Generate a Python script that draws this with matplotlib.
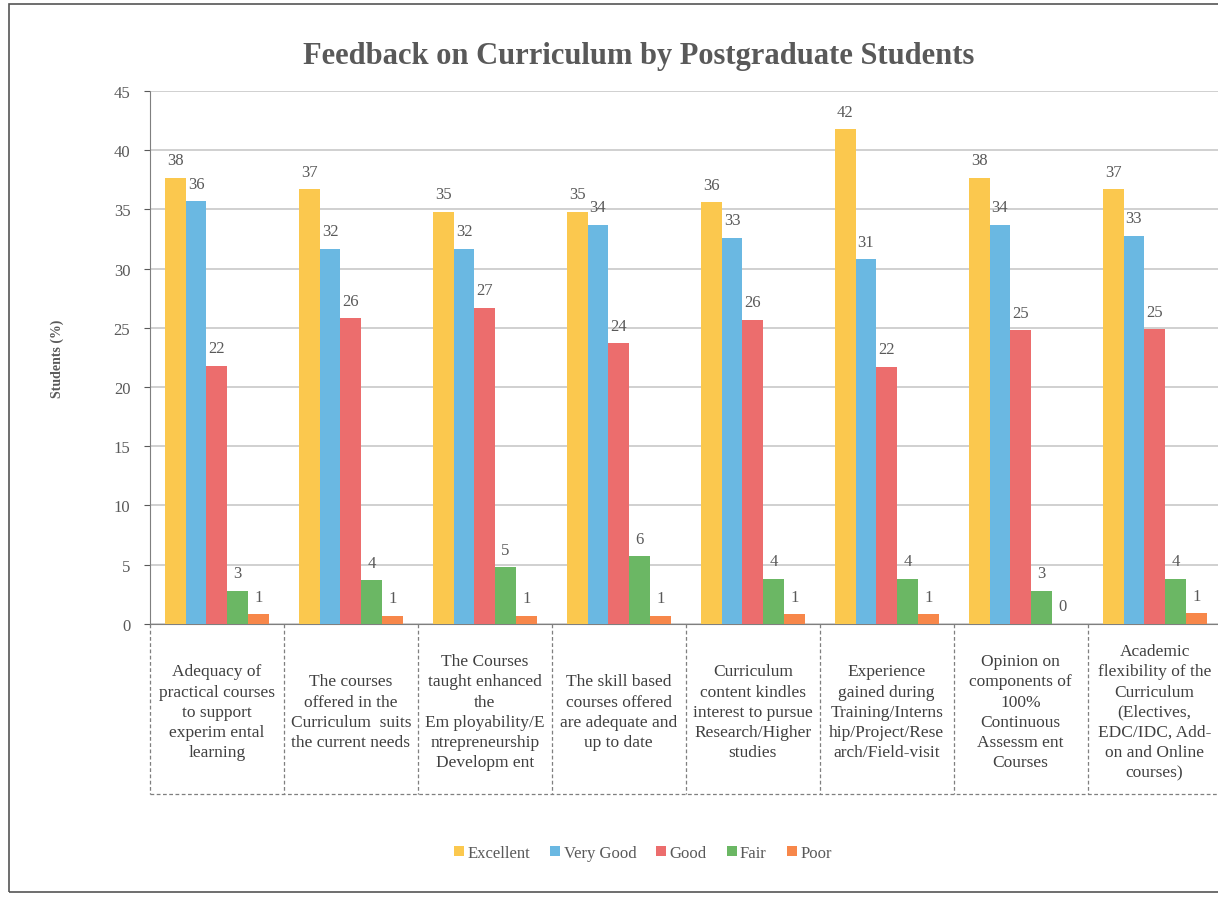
import matplotlib
matplotlib.use("Agg")
import matplotlib.pyplot as plt
import matplotlib.transforms as mtransforms
from matplotlib.patches import Rectangle
import numpy as np

plt.rcParams['font.family'] = ['Liberation Serif', 'DejaVu Serif']

categories = [
    "Adequacy of\npractical courses\nto support\nexperim ental\nlearning",
    "The courses\noffered in the\nCurriculum  suits\nthe current needs",
    "The Courses\ntaught enhanced\nthe\nEm ployability/E\nntrepreneurship\nDevelopm ent",
    "The skill based\ncourses offered\nare adequate and\nup to date",
    "Curriculum\ncontent kindles\ninterest to pursue\nResearch/Higher\nstudies",
    "Experience\ngained during\nTraining/Interns\nhip/Project/Rese\narch/Field-visit",
    "Opinion on\ncomponents of\n100%\nContinuous\nAssessm ent\nCourses",
    "Academic\nflexibility of the\nCurriculum\n(Electives,\nEDC/IDC, Add-\non and Online\ncourses)",
]
series = ["Excellent", "Very Good", "Good", "Fair", "Poor"]
excellent = [37.7, 36.7, 34.8, 34.8, 35.6, 41.8, 37.7, 36.7]
very_good = [35.7, 31.7, 31.7, 33.7, 32.6, 30.8, 33.7, 32.8]
good = [21.8, 25.8, 26.7, 23.7, 25.7, 21.7, 24.8, 24.9]
fair = [2.8, 3.7, 4.8, 5.7, 3.8, 3.8, 2.8, 3.8]
poor = [0.8, 0.7, 0.7, 0.7, 0.8, 0.8, 0.0, 0.9]
colors = ["#FBC84E", "#6AB8E2", "#EC6D6D", "#6BB764", "#F7874A"]

grey = "#595959"
fig = plt.figure(figsize=(12.18, 9.03), dpi=100)
ax = fig.add_axes([0.123, 0.308, 0.88, 0.59])

x = np.arange(len(categories))
w = 0.155
for k, (name, vals) in enumerate(zip(series, [excellent, very_good, good, fair, poor])):
    bars = ax.bar(x + (k - 2) * w, vals, w, color=colors[k], label=name, zorder=3)
    for b, v in zip(bars, vals):
        ax.text(b.get_x() + b.get_width() / 2, v + 0.8, f"{round(v):d}",
                ha='center', va='bottom', fontsize=12, color=grey)

ax.set_xlim(-0.5, 7.5)
ax.set_ylim(0, 45)
ax.set_yticks(range(0, 46, 5))
ax.yaxis.grid(True, color="#c8c8c8", lw=1.2, zorder=0)
ax.set_xticks([])
ax.tick_params(axis='y', length=4, colors=grey, labelsize=12, pad=10)
for s in ['top', 'right']:
    ax.spines[s].set_visible(False)
ax.spines['left'].set_color("#7f7f7f")
ax.spines['bottom'].set_color("#7f7f7f")
ax.spines['left'].set_linestyle((0, (3, 1)))
ax.set_ylabel("Students (%)", fontsize=10, fontweight='bold', color=grey, labelpad=36)

# category table under the plot
trans = mtransforms.blended_transform_factory(ax.transData, ax.transAxes)
for i, lab in enumerate(categories):
    ax.text(i, -0.165, lab, transform=trans, ha='center', va='center',
            fontsize=12.5, color="#404040", linespacing=1.35)
for i in range(len(categories) + 1):
    ax.plot([i - 0.5, i - 0.5], [0, -0.32], transform=trans, color="#7f7f7f",
            lw=0.9, ls=(0, (3, 2)), clip_on=False)
ax.plot([-0.5, 7.5], [-0.32, -0.32], transform=trans, color="#7f7f7f",
        lw=0.9, ls=(0, (3, 2)), clip_on=False)

fig.text(0.524, 0.937, "Feedback on Curriculum by Postgraduate Students", fontsize=22,
         fontweight='bold', color=grey, ha='center', va='center')

ax.legend(loc='center', bbox_to_anchor=(0.46, -0.43), ncol=5, frameon=False,
          handlelength=0.6, handleheight=0.6, handletextpad=0.2, columnspacing=1.2,
          fontsize=12, labelcolor=grey)

fig.patches.append(Rectangle((0.007, 0.011), 1.0, 0.983, transform=fig.transFigure,
                             fill=False, edgecolor="#555555", lw=1.2))

fig.savefig("out.png", dpi=100)
